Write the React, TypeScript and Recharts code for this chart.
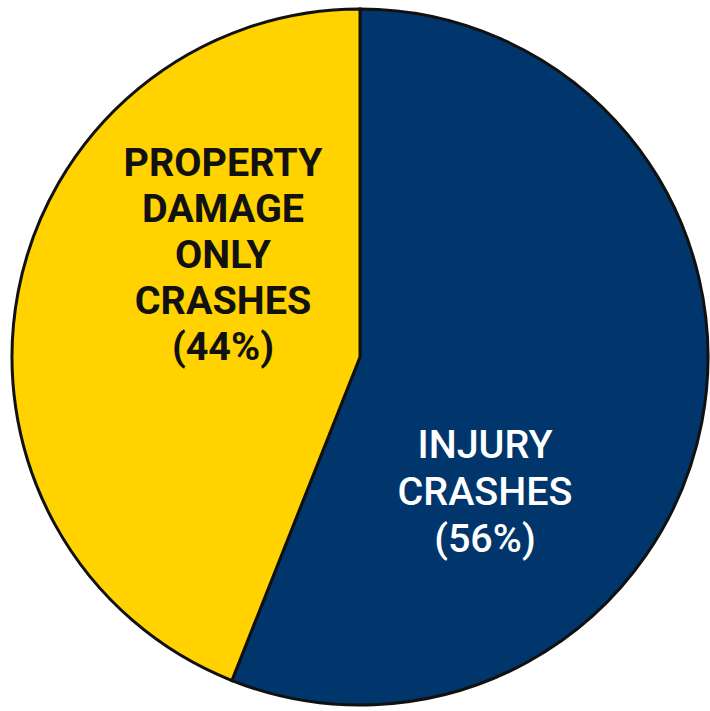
import { Cell, Pie, PieChart } from "recharts";

const categories = ["INJURY CRASHES", "PROPERTY DAMAGE ONLY CRASHES"];
const shares = [56, 44];
const labelLines = [
  ["INJURY", "CRASHES", "(56%)"],
  ["PROPERTY", "DAMAGE", "ONLY", "CRASHES", "(44%)"],
];

const COLORS = ["#00366B", "#FFD200"];
const TEXT_COLORS = ["#FFFFFF", "#111111"];
// label anchor (relative to pie centre) and line pitch, per slice
const LABEL_POS = [
  { dx: 125, dy: 101, step: 47, weight: 500 },
  { dx: -137, dy: -181, step: 46, weight: 700 },
];

const data = categories.map((name, i) => ({ name, value: shares[i] }));

function renderLabel(props: any) {
  const { cx, cy, index } = props;
  const pos = LABEL_POS[index];
  return (
    <g>
      {labelLines[index].map((line, j) => (
        <text
          key={j}
          x={cx + pos.dx}
          y={cy + pos.dy + j * pos.step}
          textAnchor="middle"
          fill={TEXT_COLORS[index]}
          fontFamily="Roboto, sans-serif"
          fontWeight={pos.weight}
          fontSize={39.5}
        >
          {line}
        </text>
      ))}
    </g>
  );
}

export default function App() {
  return (
    <div style={{ position: "absolute", left: 0, top: 0, width: 710, height: 711, background: "#fff" }}>
      <PieChart width={710} height={711} margin={{ top: 0, right: 0, bottom: 0, left: 0 }}>
        <Pie
          data={data}
          dataKey="value"
          nameKey="name"
          cx={360}
          cy={357}
          outerRadius={348}
          startAngle={90}
          endAngle={-270}
          stroke="#111"
          strokeWidth={3}
          labelLine={false}
          label={renderLabel}
          isAnimationActive={false}
        >
          {data.map((_, i) => (
            <Cell key={i} fill={COLORS[i]} />
          ))}
        </Pie>
      </PieChart>
    </div>
  );
}
